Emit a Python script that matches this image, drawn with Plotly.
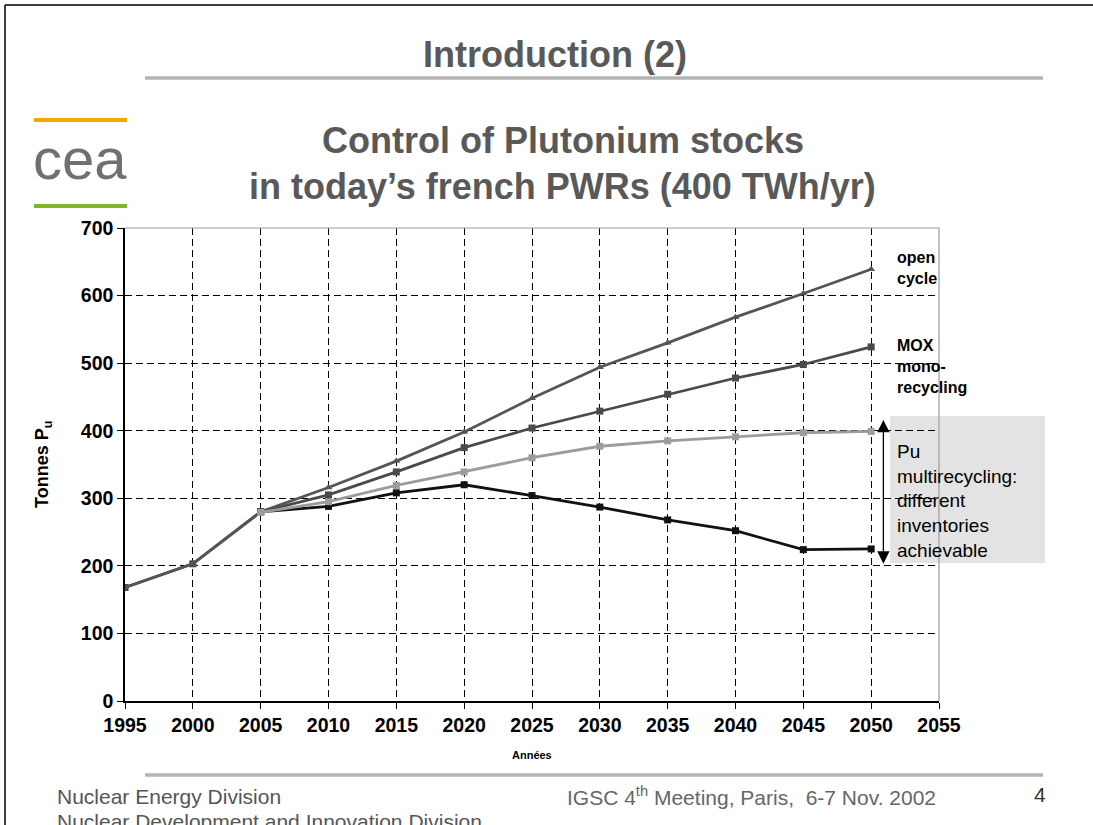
import plotly.graph_objects as go

# ---------------- data ----------------
years = [1995, 2000, 2005, 2010, 2015, 2020, 2025, 2030, 2035, 2040, 2045, 2050]
open_cycle = [168, 203, 280, 316, 355, 398, 448, 494, 530, 568, 603, 639]
mox_mono = [168, 203, 280, 305, 339, 375, 404, 429, 454, 478, 498, 524]
years_multi = [2005, 2010, 2015, 2020, 2025, 2030, 2035, 2040, 2045, 2050]
multi_high = [279, 295, 319, 339, 360, 377, 385, 391, 397, 399]
multi_low = [280, 288, 308, 320, 304, 287, 268, 252, 224, 225]
x_ticks = [1995, 2000, 2005, 2010, 2015, 2020, 2025, 2030, 2035, 2040, 2045, 2050, 2055]
y_ticks = [0, 100, 200, 300, 400, 500, 600, 700]

W, H = 1093, 825
L, R, T, B = 125, 939, 228, 701   # plot area in pixels


def px(x):
    return (x - L) / (R - L)


def py(y):
    return (B - y) / (B - T)


FONT = "Arial, 'Liberation Sans', sans-serif"
GREY_T = "#595959"

fig = go.Figure()

fig.add_trace(go.Scatter(x=years_multi, y=multi_low, mode="lines+markers",
                         line=dict(color="#111111", width=2.8),
                         marker=dict(symbol="square", size=7, color="#111111"),
                         name="multi low"))
fig.add_trace(go.Scatter(x=years, y=mox_mono, mode="lines+markers",
                         line=dict(color="#4a4a4a", width=2.8),
                         marker=dict(symbol="square", size=7, color="#4a4a4a"),
                         name="MOX mono-recycling"))
fig.add_trace(go.Scatter(x=years, y=open_cycle, mode="lines+markers",
                         line=dict(color="#555555", width=2.8),
                         marker=dict(symbol="triangle-up", size=7, color="#555555"),
                         name="open cycle"))
fig.add_trace(go.Scatter(x=years_multi, y=multi_high, mode="lines+markers",
                         line=dict(color="#9c9c9c", width=2.8),
                         marker=dict(symbol="square", size=7, color="#9c9c9c"),
                         name="multi high"))

shapes = []
# slide border (top and left edges)
shapes.append(dict(type="line", xref="paper", yref="paper",
                   x0=px(5), x1=px(W), y0=py(5), y1=py(5),
                   line=dict(color="black", width=1.5)))
shapes.append(dict(type="line", xref="paper", yref="paper",
                   x0=px(5), x1=px(5), y0=py(5), y1=py(H),
                   line=dict(color="black", width=1.5)))
# title rule & footer rule
for yy in (78, 775):
    shapes.append(dict(type="line", xref="paper", yref="paper",
                       x0=px(145), x1=px(1043), y0=py(yy), y1=py(yy),
                       line=dict(color="#b4b4b4", width=3.5)))
# logo lines
shapes.append(dict(type="line", xref="paper", yref="paper",
                   x0=px(34), x1=px(127), y0=py(120), y1=py(120),
                   line=dict(color="#f5a800", width=4)))
shapes.append(dict(type="line", xref="paper", yref="paper",
                   x0=px(34), x1=px(127), y0=py(206), y1=py(206),
                   line=dict(color="#7ab929", width=4)))
# plot area top/right border
shapes.append(dict(type="line", xref="paper", yref="paper",
                   x0=0, x1=1, y0=1, y1=1, line=dict(color="#9a9a9a", width=1.2)))
shapes.append(dict(type="line", xref="paper", yref="paper",
                   x0=1, x1=1, y0=0, y1=1, line=dict(color="#9a9a9a", width=1.2)))
# grey note box
shapes.append(dict(type="rect", xref="paper", yref="paper",
                   x0=px(890), x1=px(1045), y0=py(563), y1=py(416),
                   fillcolor="#e3e3e3", line=dict(width=0), layer="below"))

ann = []


def text(x, y, s, size, color="black", bold=False, xanchor="center", yanchor="middle", **kw):
    ann.append(dict(x=px(x), y=py(y), xref="paper", yref="paper", text=s, showarrow=False,
                    xanchor=xanchor, yanchor=yanchor,
                    font=dict(family=FONT, size=size, color=color,
                              weight="bold" if bold else "normal"), **kw))


text(555, 54, "Introduction (2)", 36, GREY_T, True)
text(563, 141, "Control of Plutonium stocks", 36, GREY_T, True)
text(562, 186, "in today’s french PWRs (400 TWh/yr)", 36, GREY_T, True)
text(80, 158, "cea", 58, "#707070", False)

text(895, 268, "open<br>cycle", 16, "black", True, xanchor="left", align="left")
text(895, 366, "MOX<br>mono-<br>recycling", 16, "black", True, xanchor="left", align="left")
text(895, 501, "Pu<br>multirecycling:<br>different<br>inventories<br>achievable", 19,
     "black", False, xanchor="left", align="left")

text(43, 465, "Tonnes P<sub>u</sub>", 18, "black", True, textangle=-90)
text(532, 755, "Années", 11, "black", True)

text(55, 796, "Nuclear Energy Division", 21, "#555555", xanchor="left")
text(55, 821, "Nuclear Development and Innovation Division", 21, "#555555", xanchor="left")
text(565, 796, "IGSC 4<sup>th</sup> Meeting, Paris,&nbsp; 6-7 Nov. 2002", 21, "#666666", xanchor="left")
text(1040, 794, "4", 21, "#333333")

# double-headed arrow
ann.append(dict(x=2050.9, y=416, ax=2050.9, ay=201, xref="x", yref="y", axref="x", ayref="y",
                text="", showarrow=True, arrowhead=2, startarrowhead=2, arrowside="end+start",
                arrowsize=1.9, startarrowsize=1.9, arrowwidth=1.3, arrowcolor="black"))

grid = dict(showgrid=True, gridcolor="black", gridwidth=1, griddash="7px,4px")

fig.update_layout(
    width=W, height=H, autosize=False,
    margin=dict(l=L, r=W - R, t=T, b=H - B, pad=0),
    paper_bgcolor="white", plot_bgcolor="white",
    showlegend=False,
    font=dict(family=FONT, color="black"),
    shapes=shapes, annotations=ann,
    xaxis=dict(range=[1995, 2055], tickvals=x_ticks, ticks="outside", ticklen=6,
               tickcolor="black", showline=True, linecolor="black", linewidth=1.5,
               zeroline=False, tickfont=dict(size=19.5, weight="bold", family=FONT),
               **grid),
    yaxis=dict(range=[0, 700], tickvals=y_ticks, ticks="outside", ticklen=6,
               tickcolor="black", showline=True, linecolor="black", linewidth=1.5,
               zeroline=False, tickfont=dict(size=19.5, weight="bold", family=FONT),
               **grid),
)

fig.write_html("out.html", config={"displayModeBar": False},
               post_script="document.body.style.margin='0px';")
